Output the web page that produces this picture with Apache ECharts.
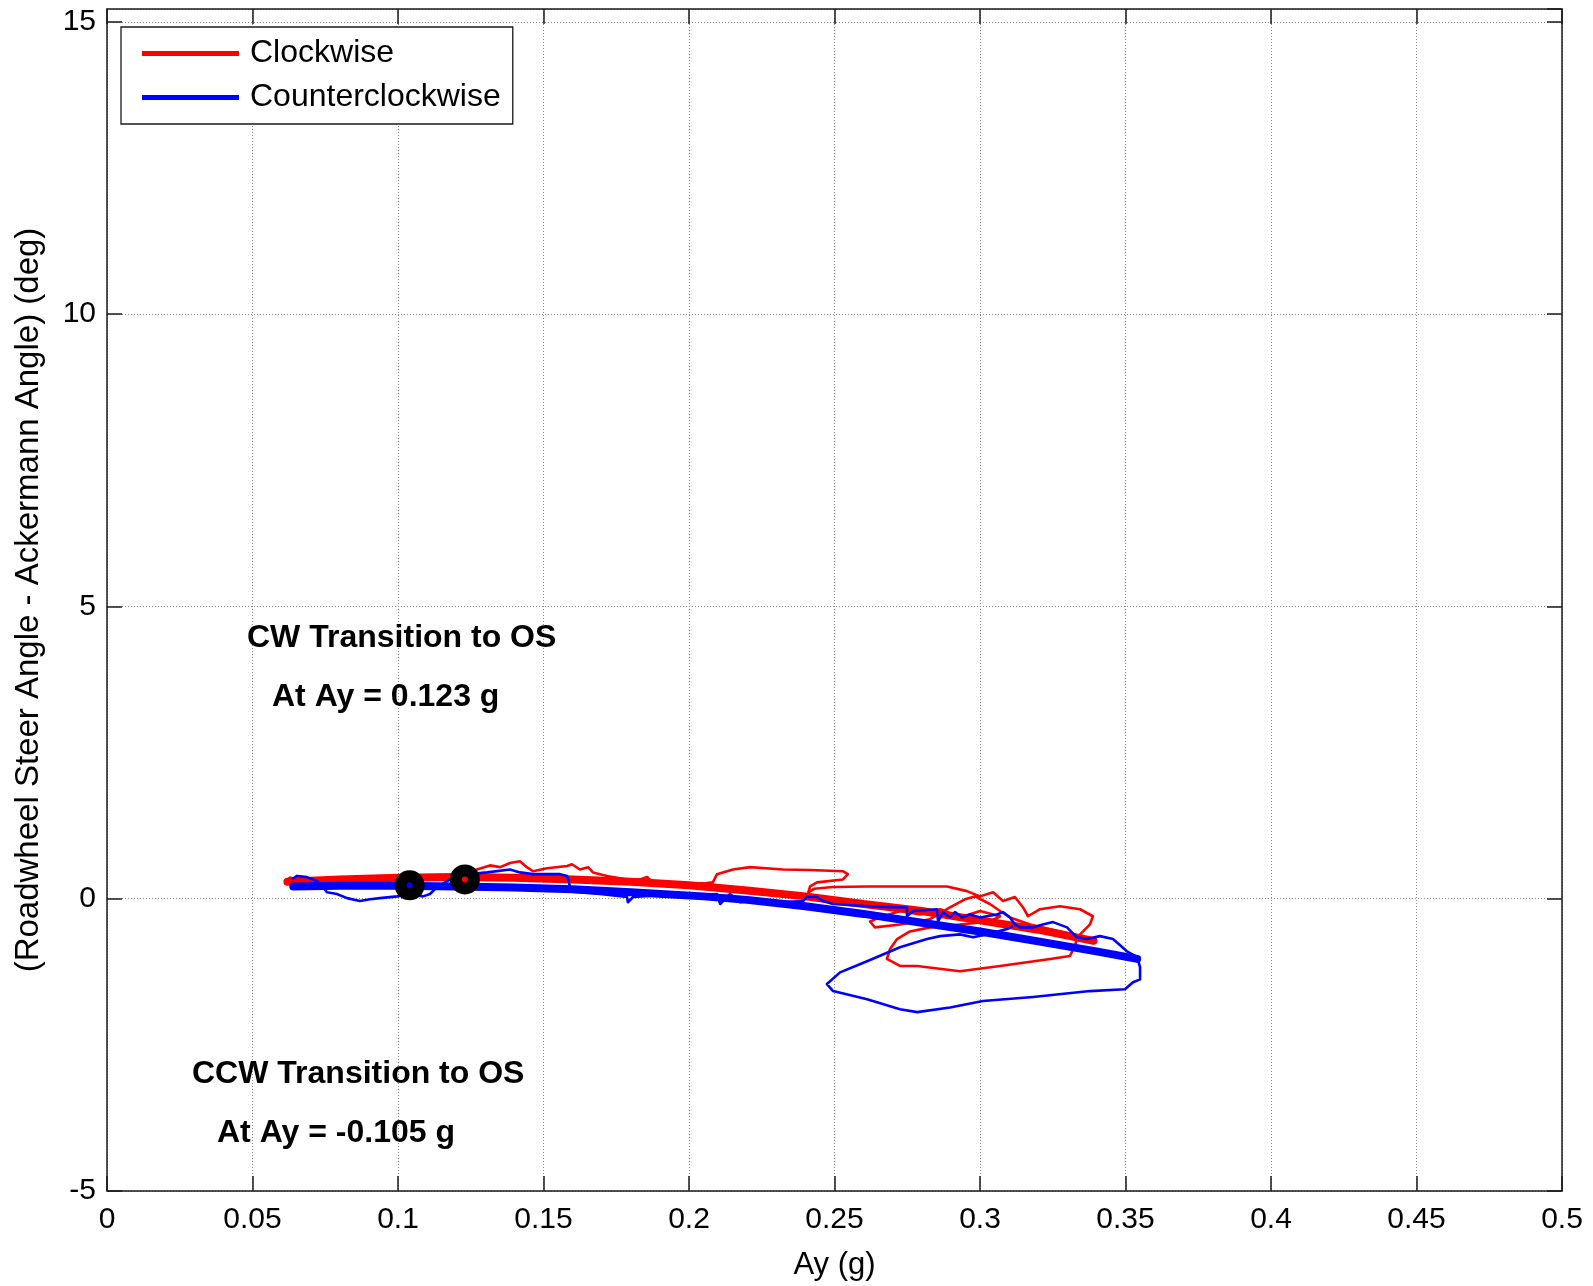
<!DOCTYPE html>
<html>
<head>
<meta charset="utf-8">
<script src="https://cdn.jsdelivr.net/npm/echarts@6/dist/echarts.min.js"></script>
<style>html,body{margin:0;padding:0;background:#fff;}#c{width:1593px;height:1286px;}</style>
</head>
<body>
<div id="c"></div>
<script>
// ---- data (Ay in g, steer difference in deg) ----
const xTicks = [0, 0.05, 0.1, 0.15, 0.2, 0.25, 0.3, 0.35, 0.4, 0.45, 0.5];
const yTicks = [-5, 0, 5, 10, 15];

const cwRaw = [
[0.0612,0.30],[0.0630,0.36],[0.0663,0.33],[0.0766,0.31],[0.0869,0.32],[0.1007,0.34],[0.1110,0.35],[0.1213,0.40],[0.1271,0.50],[0.1316,0.57],[0.1351,0.54],[0.1385,0.61],[0.1419,0.64],[0.1440,0.55],[0.1464,0.47],[0.1512,0.52],[0.1581,0.56],[0.1598,0.59],[0.1625,0.50],[0.1653,0.54],[0.1670,0.45],[0.1718,0.39],[0.1787,0.33],[0.1832,0.33],[0.1856,0.37],[0.1876,0.28],[0.1935,0.27],[0.1993,0.25],[0.2060,0.27],[0.2082,0.28],[0.2096,0.42],[0.2151,0.50],[0.2210,0.54],[0.2323,0.50],[0.2416,0.49],[0.2529,0.47],[0.2546,0.42],[0.2529,0.33],[0.2440,0.28],[0.2416,0.21],[0.2410,0.11],[0.2430,0.17],[0.2495,0.20],[0.2612,0.21],[0.2725,0.21],[0.2887,0.21],[0.2955,0.13],[0.3000,0.04],[0.3045,0.11],[0.3079,-0.04],[0.3120,0.03],[0.3148,-0.15],[0.3165,-0.30],[0.3206,-0.18],[0.3275,-0.13],[0.3344,-0.18],[0.3388,-0.30],[0.3378,-0.44],[0.3344,-0.61],[0.3333,-0.69],[0.3326,-0.81],[0.3309,-0.98],[0.3241,-1.03],[0.3069,-1.15],[0.2931,-1.24],[0.2784,-1.15],[0.2725,-1.15],[0.2680,-1.03],[0.2691,-0.86],[0.2715,-0.69],[0.2759,-0.56],[0.2828,-0.49],[0.2931,-0.44],[0.3034,-0.39],[0.3069,-0.30],[0.3000,-0.21],[0.2931,-0.32],[0.2863,-0.18],[0.2794,-0.27],[0.2725,-0.21],[0.2656,-0.32],[0.2622,-0.39],[0.2639,-0.49],[0.2725,-0.44],[0.2828,-0.35],[0.2897,-0.15],[0.2948,-0.01],[0.2983,0.04],[0.3034,-0.09],[0.3069,-0.21],[0.3103,-0.32],[0.3172,-0.44],[0.3275,-0.56],[0.3361,-0.66]
];

const ccwRaw = [
[0.0636,0.33],[0.0653,0.39],[0.0687,0.37],[0.0722,0.30],[0.0742,0.20],[0.0756,0.11],[0.0790,0.08],[0.0825,0.01],[0.0869,-0.04],[0.0904,-0.01],[0.0938,0.01],[0.0997,0.04],[0.1041,0.08],[0.1086,0.04],[0.1110,0.08],[0.1134,0.20],[0.1179,0.33],[0.1203,0.37],[0.1247,0.42],[0.1306,0.45],[0.1385,0.50],[0.1419,0.45],[0.1464,0.42],[0.1557,0.42],[0.1581,0.39],[0.1591,0.21],[0.1598,0.12],[0.1694,0.08],[0.1787,0.03],[0.1790,-0.06],[0.1808,0.03],[0.1900,0.06],[0.2003,0.05],[0.2096,0.08],[0.2107,-0.09],[0.2141,0.08],[0.2175,-0.06],[0.2244,-0.02],[0.2313,-0.06],[0.2392,-0.04],[0.2405,0.03],[0.2440,0.03],[0.2460,-0.04],[0.2495,-0.09],[0.2588,-0.12],[0.2656,-0.14],[0.2749,-0.15],[0.2749,-0.30],[0.2770,-0.21],[0.2852,-0.18],[0.2856,-0.39],[0.2873,-0.23],[0.2897,-0.32],[0.2914,-0.23],[0.2938,-0.32],[0.2966,-0.27],[0.3000,-0.32],[0.3058,-0.27],[0.3079,-0.23],[0.3103,-0.32],[0.3120,-0.44],[0.3137,-0.49],[0.3182,-0.49],[0.3216,-0.44],[0.3251,-0.40],[0.3299,-0.49],[0.3333,-0.66],[0.3368,-0.69],[0.3412,-0.64],[0.3457,-0.69],[0.3505,-0.90],[0.3540,-1.00],[0.3550,-1.17],[0.3550,-1.38],[0.3526,-1.43],[0.3498,-1.55],[0.3378,-1.58],[0.3182,-1.68],[0.3010,-1.75],[0.2897,-1.86],[0.2784,-1.94],[0.2725,-1.89],[0.2612,-1.72],[0.2495,-1.58],[0.2474,-1.46],[0.2519,-1.26],[0.2612,-1.07],[0.2725,-0.83],[0.2818,-0.69],[0.2863,-0.64],[0.2931,-0.61],[0.2976,-0.66],[0.3024,-0.61],[0.3093,-0.52],[0.3113,-0.47]
];

const cwFit = [[0.062,0.29],[0.08,0.33],[0.10,0.36],[0.12,0.37],[0.14,0.36],[0.16,0.33],[0.18,0.29],[0.20,0.23],[0.22,0.14],[0.24,0.04],[0.26,-0.09],[0.28,-0.21],[0.30,-0.37],[0.32,-0.53],[0.339,-0.72]];
const ccwFit = [[0.064,0.21],[0.08,0.22],[0.10,0.22],[0.12,0.21],[0.14,0.19],[0.16,0.16],[0.18,0.11],[0.205,0.04],[0.22,-0.02],[0.24,-0.13],[0.26,-0.26],[0.28,-0.41],[0.30,-0.56],[0.32,-0.73],[0.34,-0.90],[0.354,-1.03]];

const transitionPts = [[0.104,0.23],[0.123,0.33]];
const ccwCenter = [[0.104,0.23]];
const cwCenter = [[0.123,0.33]];

const legendNames = ['Clockwise', 'Counterclockwise'];
const notes = ['CW Transition to OS', 'At Ay = 0.123 g', 'CCW Transition to OS', 'At Ay = -0.105 g'];

// ---- chart ----
const FONT = '"Liberation Sans", Arial, Helvetica, sans-serif';
const chart = echarts.init(document.getElementById('c'), null, {renderer: 'canvas'});
const gridLine = {show: true, lineStyle: {color: '#8c8c8c', width: 1, type: [1, 2]}};
const axLine = {show: true, onZero: false, lineStyle: {color: '#1a1a1a', width: 1.5}};
const axTick = {show: true, inside: true, length: 15, lineStyle: {color: '#1a1a1a', width: 1.5}};
const yFmt = v => (yTicks.some(t => Math.abs(t - v) < 1e-6) ? String(v) : '');
const xFmt = v => (xTicks.some(t => Math.abs(t - v) < 1e-9) ? String(+v.toFixed(2)) : '');

chart.setOption({
  animation: false,
  backgroundColor: '#fff',
  textStyle: {fontFamily: FONT},
  grid: {left: 107, right: 31, top: 9, bottom: 94, containLabel: false},
  legend: {
    data: legendNames,
    orient: 'vertical',
    left: 121, top: 27,
    backgroundColor: '#fff',
    borderColor: '#1a1a1a', borderWidth: 1.3, borderRadius: 0,
    padding: [8, 12, 8, 21],
    itemGap: 7,
    itemWidth: 97, itemHeight: 5,
    icon: 'rect',
    selectedMode: false,
    textStyle: {fontFamily: FONT, fontSize: 32, color: '#000', lineHeight: 37, padding: [0, 0, 0, 6]}
  },
  xAxis: [{
    type: 'value', min: 0, max: 0.5, interval: 0.05, position: 'bottom',
    name: 'Ay (g)', nameLocation: 'middle', nameGap: 59,
    nameTextStyle: {fontFamily: FONT, fontSize: 31, color: '#000'},
    axisLine: axLine, axisTick: axTick, splitLine: gridLine,
    axisLabel: {fontFamily: FONT, fontSize: 30, color: '#000', margin: 14, formatter: xFmt}
  }, {
    type: 'value', min: 0, max: 0.5, interval: 0.05, position: 'top',
    axisLine: axLine, axisTick: axTick, splitLine: {show: false}, axisLabel: {show: false}
  }],
  yAxis: [{
    type: 'value', min: -5, max: 15.22, interval: 5, position: 'left',
    name: '(Roadwheel Steer Angle - Ackermann Angle) (deg)', nameLocation: 'middle', nameGap: 62,
    nameTextStyle: {fontFamily: FONT, fontSize: 33, color: '#000'},
    axisLine: axLine, axisTick: axTick, splitLine: gridLine,
    axisLabel: {fontFamily: FONT, fontSize: 30, color: '#000', margin: 11, formatter: yFmt, showMaxLabel: false}
  }, {
    type: 'value', min: -5, max: 15.22, interval: 5, position: 'right',
    axisLine: axLine, axisTick: axTick, splitLine: {show: false}, axisLabel: {show: false}
  }],
  series: [
    {name: 'CW data', type: 'line', data: cwRaw, showSymbol: false, symbol: 'none', z: 2,
     lineStyle: {color: '#ff0000', width: 2.6, join: 'round'}, itemStyle: {color: '#ff0000'}},
    {name: 'Clockwise', type: 'line', data: cwFit, showSymbol: false, symbol: 'none', z: 3,
     lineStyle: {color: '#ff0000', width: 8, cap: 'round'}, itemStyle: {color: '#ff0000'}},
    {name: 'CCW data', type: 'line', data: ccwRaw, showSymbol: false, symbol: 'none', z: 4,
     lineStyle: {color: '#0000ff', width: 2.6, join: 'round'}, itemStyle: {color: '#0000ff'}},
    {name: 'Counterclockwise', type: 'line', data: ccwFit, showSymbol: false, symbol: 'none', z: 5,
     lineStyle: {color: '#0000ff', width: 8, cap: 'round'}, itemStyle: {color: '#0000ff'}},
    {name: 'Transition', type: 'scatter', data: transitionPts, symbol: 'circle', symbolSize: 30, z: 6,
     itemStyle: {color: '#000', opacity: 1}},
    {name: 'ccwC', type: 'scatter', data: ccwCenter, symbol: 'circle', symbolSize: 6, z: 7, itemStyle: {color: '#0000ff', opacity: 1}},
    {name: 'cwC', type: 'scatter', data: cwCenter, symbol: 'circle', symbolSize: 6, z: 7, itemStyle: {color: '#ff0000', opacity: 1}}
  ],
  graphic: [
    {type: 'text', z: 50, style: {text: notes[0], x: 247, y: 638, verticalAlign: 'middle', align: 'left', font: 'bold 32px ' + FONT, fill: '#000'}},
    {type: 'text', z: 50, style: {text: notes[1], x: 272, y: 697, verticalAlign: 'middle', align: 'left', font: 'bold 32px ' + FONT, fill: '#000'}},
    {type: 'text', z: 50, style: {text: notes[2], x: 192, y: 1074, verticalAlign: 'middle', align: 'left', font: 'bold 32px ' + FONT, fill: '#000'}},
    {type: 'text', z: 50, style: {text: notes[3], x: 217, y: 1133, verticalAlign: 'middle', align: 'left', font: 'bold 32px ' + FONT, fill: '#000'}}
  ]
});
</script>
</body>
</html>
